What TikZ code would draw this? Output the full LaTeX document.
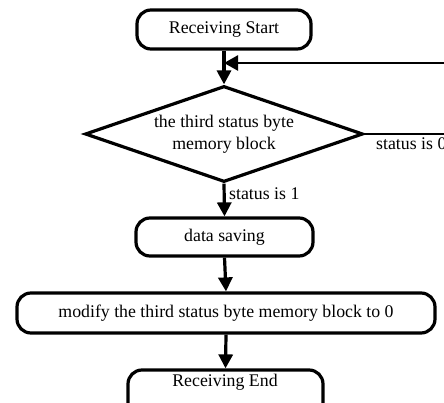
\documentclass[tikz,border=0pt]{standalone}
\usepackage{fontspec}
\setmainfont{Liberation Serif}
\usetikzlibrary{shapes.geometric,arrows.meta}
\begin{document}
\begin{tikzpicture}[x=1pt,y=-1pt,
  every node/.style={font=\fontsize{17.8}{22}\selectfont},
  term/.style={draw,line width=3.2pt,rounded corners=14pt,inner sep=0pt},
  decide/.style={draw,diamond,line width=3.2pt,inner sep=0pt,aspect=2.9,align=center},
  flow/.style={line width=3.2pt,-{Triangle[length=14pt,width=14pt]}},
  thin flow/.style={line width=2.5pt},
  tag/.style={inner sep=0pt}]
  \useasboundingbox (0,0) rectangle (444,403);
  \begin{scope}
  \clip (0,0) rectangle (444,403);
  % process boxes
  \node[term,minimum width=174pt,minimum height=39pt] (start) at (224,29.5) {Receiving Start};
  \node[decide,minimum width=278pt,minimum height=96pt] (dec) at (224,134) {the third status byte\\memory block};
  \node[term,minimum width=177pt,minimum height=38pt] (save) at (224.5,237) {data saving};
  \node[term,minimum width=418pt,minimum height=40pt] (modify) at (226,313) {modify the third status byte memory block to 0};
  \node[term,minimum width=195pt,minimum height=46pt] (endbox) at (225.5,393) {};
  \node[fill=white,inner sep=1.5pt] (endtext) at (225,382) {Receiving End};
  % loop back and exit on the right
  \coordinate (fbin) at (444,63);
  \coordinate (fbout) at (444,134);
  % connectors
  \draw[flow] (start.south) -- (dec.north);
  \draw[thin flow,-{Triangle[length=14pt,width=15pt]}] (fbin) -- (start.south |- fbin);
  \draw[thin flow] (dec.east) -- (fbout);
  \node[tag,anchor=north west] (s0) at (376,137) {status is 0};
  \draw[flow] (dec.south) -- (save.north);
  \node[tag,anchor=west] (s1) at (229,194) {status is 1};
  \draw[flow] (save.south) -- (modify.north);
  \draw[flow] (modify.south) -- (endbox.north);
  \end{scope}
\end{tikzpicture}
\end{document}
